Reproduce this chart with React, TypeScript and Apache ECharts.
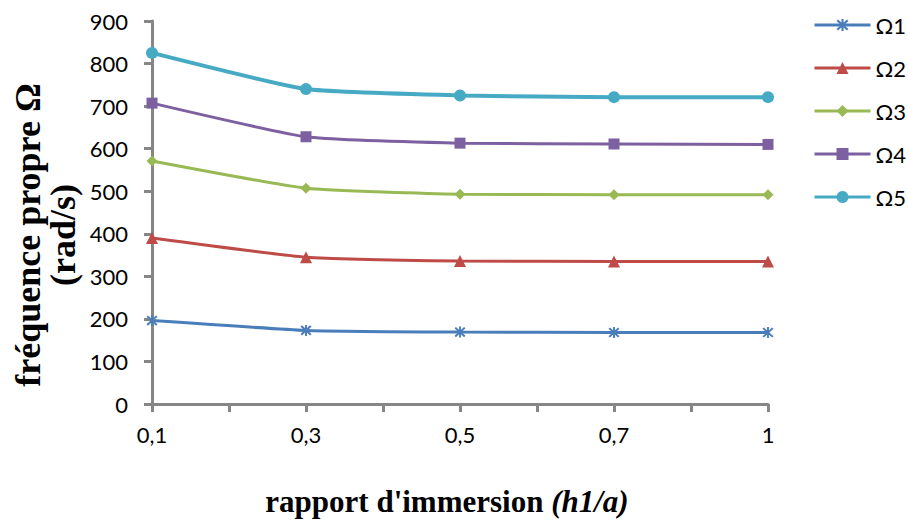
import React, { useEffect, useRef } from "react";
import * as echarts from "echarts";

const categories = ["0,1", "0,3", "0,5", "0,7", "1"];
const seriesNames = ["Ω1", "Ω2", "Ω3", "Ω4", "Ω5"];
const omega1 = [196, 173, 169, 168, 168];
const omega2 = [390, 345, 336, 335, 335];
const omega3 = [571, 507, 493, 492, 492];
const omega4 = [707, 628, 613, 611, 610];
const omega5 = [825, 740, 725, 721, 721];
const yTicks = [0, 900, 100];

const colors = ["#4A7EBB", "#BE4B48", "#98B954", "#7D60A0", "#46AAC5"];
const asterisk =
  "path://M-0.8,-5L0.8,-5L0.8,5L-0.8,5Z M-4.6,-3.4L-3.4,-4.6L4.6,3.4L3.4,4.6Z M3.4,-4.6L4.6,-3.4L-3.4,4.6L-4.6,3.4Z";
const symbols = [asterisk, "triangle", "diamond", "rect", "circle"];
const symbolSizes = [11, 12, 11, 11, 12];
const widths = [3, 3, 3, 3, 4];

export default function App() {
  const ref = useRef<HTMLDivElement>(null);
  useEffect(() => {
    if (!ref.current) return;
    const chart = echarts.init(ref.current, undefined, { renderer: "svg" });
    const all = [omega1, omega2, omega3, omega4, omega5];
    const axisColor = "#868686";
    chart.setOption({
      animation: false,
      color: colors,
      grid: { left: 152, right: 140, top: 21, bottom: 123, containLabel: false },
      legend: {
        orient: "vertical",
        left: 808,
        top: 9,
        itemWidth: 56,
        itemHeight: 15,
        itemGap: 21,
        lineStyle: { width: 3 },
        textStyle: { fontFamily: "Lato", fontSize: 22, color: "#000" },
        data: seriesNames,
      },
      xAxis: {
        type: "value",
        min: 0,
        max: 4,
        interval: 1,
        axisLine: { lineStyle: { color: axisColor, width: 3 } },
        axisTick: { show: true, length: 8, lineStyle: { color: axisColor, width: 3 } },
        minorTick: { show: true, splitNumber: 2, length: 8, lineStyle: { color: axisColor, width: 3 } },
        splitLine: { show: false },
        minorSplitLine: { show: false },
        axisLabel: {
          margin: 19,
          fontFamily: "Lato",
          fontSize: 22,
          color: "#000",
          formatter: (v: number) => categories[Math.round(v)] ?? "",
        },
        name: "{b|rapport d'immersion }{i|(h1/a)}",
        nameLocation: "middle",
        nameGap: 82,
        nameTextStyle: {
          padding: [0, 26, 0, 0],
          rich: {
            b: { fontFamily: "Liberation Serif", fontWeight: "bold", fontSize: 31, color: "#000" },
            i: {
              fontFamily: "Liberation Serif",
              fontWeight: "bold",
              fontStyle: "italic",
              fontSize: 31,
              color: "#000",
            },
          },
        },
      },
      yAxis: {
        type: "value",
        min: yTicks[0],
        max: yTicks[1],
        interval: yTicks[2],
        axisLine: { show: true, lineStyle: { color: axisColor, width: 3 } },
        axisTick: { show: true, length: 8, lineStyle: { color: axisColor, width: 3 } },
        splitLine: { show: false },
        axisLabel: { margin: 24, fontFamily: "Lato", fontSize: 22, color: "#000" },
      },
      graphic: [
        {
          type: "text",
          x: 45,
          y: 235,
          rotation: Math.PI / 2,
          style: {
            text: "fréquence propre Ω\n(rad/s)",
            fontFamily: "Liberation Serif",
            fontWeight: "bold",
            fontSize: 36,
            lineHeight: 35,
            fill: "#000",
            align: "center",
            verticalAlign: "middle",
          },
        },
      ],
      series: all.map((vals, i) => ({
        name: seriesNames[i],
        type: "line",
        data: vals.map((v, j) => [j, v]),
        symbol: symbols[i],
        symbolSize: symbolSizes[i],
        showSymbol: true,
        smooth: 0.15,
        lineStyle: { width: widths[i], color: colors[i] },
        itemStyle: { color: colors[i] },
      })),
    });
    return () => chart.dispose();
  }, []);
  return (
    <div
      ref={ref}
      style={{ position: "absolute", left: 0, top: 0, width: 908, height: 527 }}
    />
  );
}
